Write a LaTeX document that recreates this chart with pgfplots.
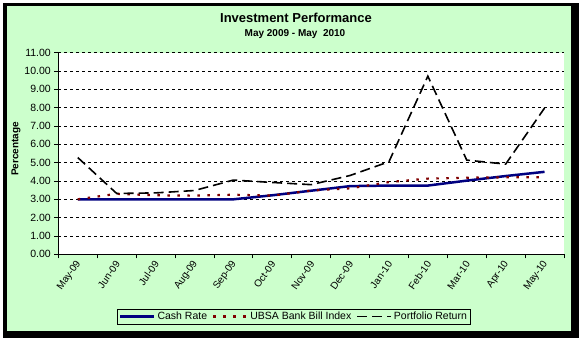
\documentclass[border=0pt]{standalone}
\usepackage{pgfplots}
\pgfplotsset{compat=1.18}
\usepackage{fontspec}
\setmainfont{Liberation Sans}
\definecolor{bggreen}{HTML}{CCFFCC}
\definecolor{cashblue}{HTML}{000080}
\definecolor{ubsared}{HTML}{800000}
\begin{document}
\begin{tikzpicture}[x=1pt,y=1pt]
\fill[white] (0,0) rectangle (579,338);
\fill[black] (3,0) rectangle (579,335);
\fill[bggreen] (6.5,7) rectangle (571,331.5);
\node[font=\bfseries\fontsize{13}{15}\selectfont] at (296,320.5) {Investment Performance};
\node[font=\bfseries\fontsize{10}{12}\selectfont] at (295,304) {May 2009 - May \ 2010};
\node[font=\bfseries\fontsize{10}{12}\selectfont, rotate=90] at (16,189) {Percentage};
\begin{axis}[
  at={(58.3pt,83.7pt)}, anchor=south west,
  scale only axis, width=505.7pt, height=201.6pt,
  axis background/.style={fill=white},
  axis x line*=bottom, axis y line*=left,
  axis line style={black, line width=0.8pt},
  xmin=-0.5, xmax=12.5, ymin=0, ymax=11,
  ytick={0,1,...,11},
  /pgf/number format/assume math mode=true,
  yticklabel style={/pgf/number format/fixed, /pgf/number format/fixed zerofill, /pgf/number format/precision=2, font=\fontsize{10.5}{12}\selectfont},
  xtick={-0.5,0.5,...,12.5},
  x tick label as interval,
  xticklabels={May-09,Jun-09,Jul-09,Aug-09,Sep-09,Oct-09,Nov-09,Dec-09,Jan-10,Feb-10,Mar-10,Apr-10,May-10},
  xticklabel style={rotate=55, anchor=east, font=\fontsize{10}{12}\selectfont, yshift=-3pt, xshift=1pt},
  tick align=outside, major tick length=4pt,
  tick style={black, line width=0.8pt},
  ymajorgrids,
  major grid style={black, line width=0.8pt, dash pattern=on 3pt off 3pt},
  legend columns=3,
  legend style={at={(0.466,-0.3085)}, anchor=center, fill=bggreen, draw=black, line width=0.8pt,
    font=\fontsize{10.5}{12}\selectfont, inner xsep=2pt, inner ysep=1pt,
    /tikz/every even column/.append style={column sep=3pt}},
  legend image code/.code={\draw[#1] (0pt,0pt) -- (34pt,0pt);},
  no markers,
]
\addplot[cashblue, line width=2.5pt] coordinates {
(0,3.00) (1,3.00) (2,3.00) (3,3.00) (4,3.00) (5,3.22) (6,3.47) (7,3.72) (8,3.75) (9,3.75) (10,4.02) (11,4.27) (12,4.50)};
\addlegendentry{Cash Rate}
\addplot[ubsared, line width=2.2pt, dash pattern=on 2.5pt off 7.5pt] coordinates {
(0,3.00) (1,3.30) (2,3.22) (3,3.20) (4,3.25) (5,3.20) (6,3.48) (7,3.60) (8,3.94) (9,4.13) (10,4.18) (11,4.20) (12,4.20)};
\addlegendentry{UBSA Bank Bill Index}
\addplot[black, line width=1.6pt, dash pattern=on 10pt off 5pt] coordinates {
(0,5.28) (1,3.32) (2,3.35) (3,3.48) (4,4.05) (5,3.92) (6,3.80) (7,4.30) (8,5.05) (9,9.72) (10,5.14) (11,4.92) (12,7.98)};
\addlegendentry{Portfolio Return}
\end{axis}
\pgfresetboundingbox
\useasboundingbox (0,0) rectangle (579,338);
\end{tikzpicture}
\end{document}
